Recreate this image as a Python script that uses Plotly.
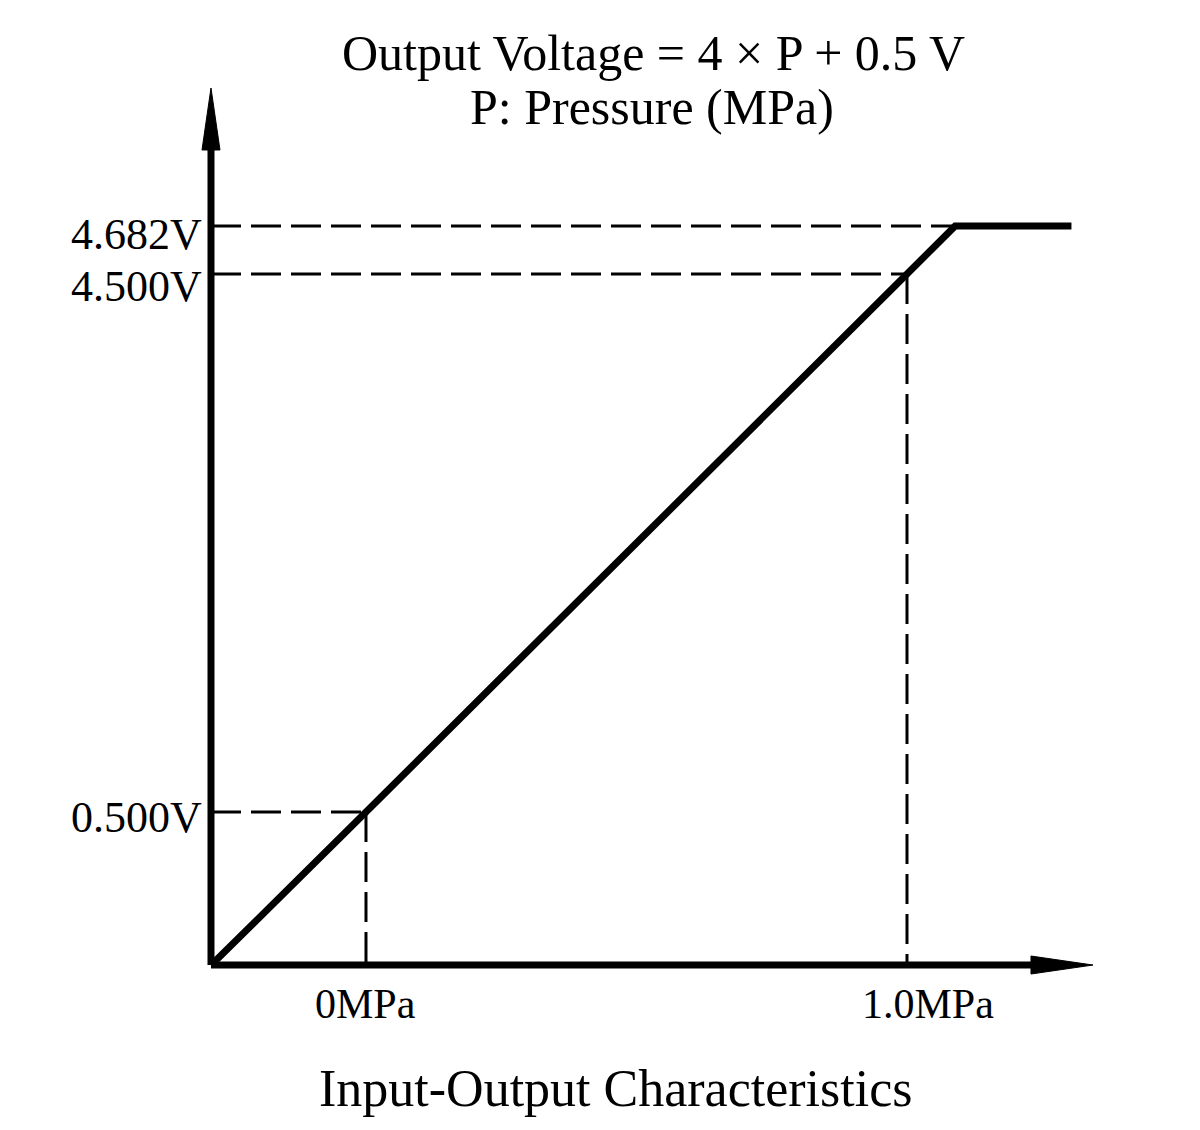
import plotly.graph_objects as go

# characteristic curve (x in MPa, y in V as drawn;
# the 4.682V clamp is drawn off-scale in the original, so its drawn height is kept)
pressure = [-0.2865, 0.0, 1.0, 1.089, 1.304]
voltage = [-0.64, 0.5, 4.5, 4.857, 4.857]

# guide points where the dashed helper lines meet the curve
guide_p = [0.0, 1.0, 1.089]
guide_v = [0.5, 4.5, 4.857]
guide_vertical = [True, True, False]
v_labels = ["0.500V", "4.500V", "4.682V"]
v_label_shift = [-5, -13, -9]
p_ticks = [0.0, 1.0]
p_labels = ["0MPa", "1.0MPa"]
p_label_shift = [0, 21]

title_lines = ["Output Voltage = 4 × P + 0.5 V", "P: Pressure (MPa)"]
bottom_title = "Input-Output Characteristics"

# axis frame (same units as the data)
x_origin, y_origin = -0.2865, -0.6375
x_tip, y_tip = 1.3438, 5.883

W, H = 1200, 1130
px_x = (1.5416 + 0.6765) / W
px_y = (6.537 + 1.864) / H
# page body margin pushes the figure 8px right/down, compensate in the ranges
OFF = 8
x_range = [-0.6765 + OFF * px_x, 1.5416 + OFF * px_x]
y_range = [-1.864 - OFF * px_y, 6.537 - OFF * px_y]
head_len, head_half = 62, 9

FONT = "Liberation Serif, Times New Roman, serif"

fig = go.Figure()

dash = "30px,10px"
for p, v, vert in zip(guide_p, guide_v, guide_vertical):
    fig.add_trace(go.Scatter(x=[x_origin, p], y=[v, v], mode="lines",
                             line=dict(color="black", width=3, dash=dash),
                             hoverinfo="skip", showlegend=False))
    if vert:
        fig.add_trace(go.Scatter(x=[p, p], y=[v, y_origin], mode="lines",
                                 line=dict(color="black", width=3, dash=dash),
                                 hoverinfo="skip", showlegend=False))

fig.add_trace(go.Scatter(x=pressure, y=voltage, mode="lines",
                         line=dict(color="black", width=7),
                         hoverinfo="skip", showlegend=False))

# axes with long arrow heads
shapes = [
    dict(type="line", x0=x_origin, y0=y_origin, x1=x_tip - head_len * px_x * 0.5, y1=y_origin,
         line=dict(color="black", width=7)),
    dict(type="line", x0=x_origin, y0=y_origin, x1=x_origin, y1=y_tip - head_len * px_y * 0.5,
         line=dict(color="black", width=7)),
    dict(type="path", fillcolor="black", line=dict(color="black", width=1),
         path=f"M{x_tip},{y_origin} L{x_tip - head_len * px_x},{y_origin + head_half * px_y} "
              f"L{x_tip - head_len * px_x},{y_origin - head_half * px_y} Z"),
    dict(type="path", fillcolor="black", line=dict(color="black", width=1),
         path=f"M{x_origin},{y_tip} L{x_origin - head_half * px_x},{y_tip - head_len * px_y} "
              f"L{x_origin + head_half * px_x},{y_tip - head_len * px_y} Z"),
]

annotations = []
for v, lab, sh in zip(guide_v, v_labels, v_label_shift):
    annotations.append(dict(x=x_origin, y=v, text=lab, showarrow=False, xanchor="right",
                            yanchor="middle", xshift=-7, yshift=sh,
                            font=dict(family=FONT, size=44, color="black")))
for p, lab, sh in zip(p_ticks, p_labels, p_label_shift):
    annotations.append(dict(x=p, y=y_origin, text=lab, showarrow=False, xanchor="center",
                            yanchor="top", xshift=sh, yshift=-14,
                            font=dict(family=FONT, size=42, color="black")))

annotations.append(dict(x=0.5375, y=1 - 15 / H, xref="paper", yref="paper",
                        text=title_lines[0], showarrow=False, xanchor="center", yanchor="top",
                        font=dict(family=FONT, size=50, color="black")))
annotations.append(dict(x=0.537, y=1 - 69 / H, xref="paper", yref="paper",
                        text=title_lines[1], showarrow=False, xanchor="center", yanchor="top",
                        font=dict(family=FONT, size=50, color="black")))
annotations.append(dict(x=0.507, y=1 - 1050 / H, xref="paper", yref="paper",
                        text=bottom_title, showarrow=False, xanchor="center", yanchor="top",
                        font=dict(family=FONT, size=52, color="black")))

fig.update_layout(
    width=W, height=H,
    margin=dict(l=0, r=0, t=0, b=0),
    paper_bgcolor="white", plot_bgcolor="white",
    xaxis=dict(range=x_range, visible=False, fixedrange=True),
    yaxis=dict(range=y_range, visible=False, fixedrange=True),
    shapes=shapes, annotations=annotations,
)

fig.write_html("out.html")
